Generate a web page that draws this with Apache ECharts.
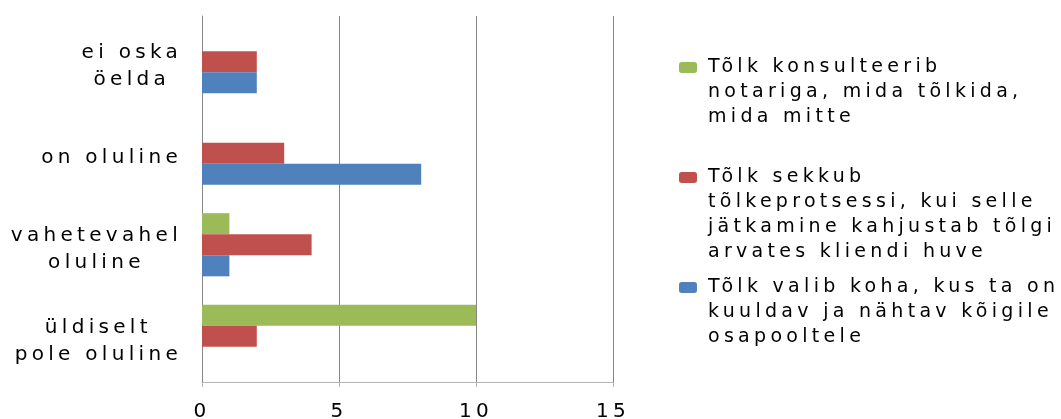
<!DOCTYPE html>
<html>
<head>
<meta charset="utf-8">
<script src="https://cdn.jsdelivr.net/npm/echarts@6/dist/echarts.min.js"></script>
<style>
  html, body { margin: 0; padding: 0; background: #fff; }
  #chart { width: 1061px; height: 419px; }
</style>
</head>
<body>
<div id="chart"></div>
<script>
// the original is rendered with very loose letter spacing
const SPACING = '4.3px';
const proto = CanvasRenderingContext2D.prototype;
const origFill = proto.fillText;
const origMeasure = proto.measureText;
proto.fillText = function () { this.letterSpacing = SPACING; return origFill.apply(this, arguments); };
proto.measureText = function () { this.letterSpacing = SPACING; return origMeasure.apply(this, arguments); };

// categories, bottom to top
const categories = ['üldiselt\npole oluline', 'vahetevahel\noluline', 'on oluline', 'ei oska\nöelda'];
const nameGreen = 'Tõlk konsulteerib\nnotariga, mida tõlkida,\nmida mitte';
const nameRed = 'Tõlk sekkub\ntõlkeprotsessi, kui selle\njätkamine kahjustab tõlgi\narvates kliendi huve';
const nameBlue = 'Tõlk valib koha, kus ta on\nkuuldav ja nähtav kõigile\nosapooltele';
const greenValues = [10, 1, 0, 0];
const redValues = [2, 4, 3, 2];
const blueValues = [0, 1, 8, 2];
const xTicks = [0, 5, 10, 15];

const font = 'DejaVu Sans';
const gray = '#868686';
const lightGray = '#B4B4B4';

// one legend per entry so that each can sit where excel put it;
// blank lines in front keep the icon level with the first text line
function legendAt(name, top) {
  const lines = name.split('\n').length;
  return {
    data: [name],
    orient: 'vertical',
    left: 679,
    top: top,
    padding: 0,
    itemWidth: 18,
    itemHeight: 11,
    selectedMode: false,
    formatter: n => '\n'.repeat(lines - 1) + n,
    textStyle: { fontFamily: font, fontSize: 19, lineHeight: 25, color: '#000', padding: [0, 0, 0, 6] }
  };
}

const chart = echarts.init(document.getElementById('chart'));
chart.setOption({
  animation: false,
  grid: { left: 202, right: 448, top: 16, bottom: 37, outerBoundsMode: 'none' },
  legend: [
    legendAt(nameGreen, 5),
    legendAt(nameRed, 90),
    legendAt(nameBlue, 225)
  ],
  xAxis: {
    type: 'value',
    min: xTicks[0],
    max: xTicks[xTicks.length - 1],
    interval: 5,
    axisLine: { show: true, lineStyle: { color: lightGray } },
    axisTick: { show: true, length: 5, lineStyle: { color: lightGray } },
    splitLine: { lineStyle: { color: gray } },
    axisLabel: { fontFamily: font, fontSize: 20, color: '#000', margin: 18 }
  },
  yAxis: {
    type: 'category',
    data: categories,
    axisLine: { lineStyle: { color: gray } },
    axisTick: { length: 10, lineStyle: { color: lightGray } },
    axisLabel: {
      margin: 20,
      align: 'right',
      padding: [10, 0, 0, 0],
      formatter: v => v.split('\n').map(l => '{c|' + l + '}').join('\n'),
      rich: { c: { align: 'center', fontFamily: font, fontSize: 20, lineHeight: 27, color: '#000' } }
    }
  },
  series: [
    { name: nameGreen, type: 'bar', data: greenValues, itemStyle: { color: '#9BBB59' }, barGap: 0, barCategoryGap: '31%' },
    { name: nameRed, type: 'bar', data: redValues, itemStyle: { color: '#C0504D' }, barGap: 0, barCategoryGap: '31%' },
    { name: nameBlue, type: 'bar', data: blueValues, itemStyle: { color: '#4F81BD' }, barGap: 0, barCategoryGap: '31%' }
  ]
});
</script>
</body>
</html>
